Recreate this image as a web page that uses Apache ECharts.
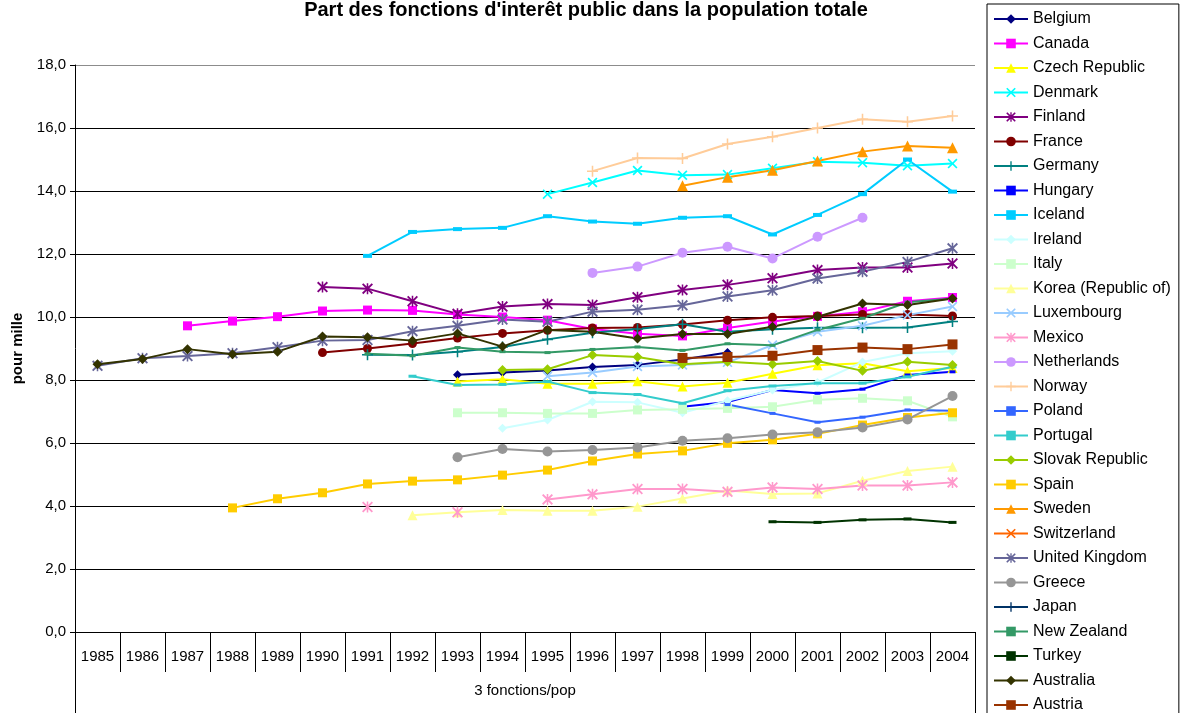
<!DOCTYPE html>
<html>
<head>
<meta charset="utf-8">
<title>Part des fonctions d'interêt public dans la population totale</title>
<script src="https://cdn.jsdelivr.net/npm/echarts@6/dist/echarts.min.js"></script>
<style>
  html, body { margin: 0; padding: 0; background: #fff; }
  #chart { width: 1181px; height: 713px; }
</style>
</head>
<body>
<div id="chart"></div>
<script>
// Years on the category axis
const years = ['1985','1986','1987','1988','1989','1990','1991','1992','1993','1994',
               '1995','1996','1997','1998','1999','2000','2001','2002','2003','2004'];

// Value axis (per mille)
const yMin = 0, yMax = 18, yStep = 2;

const N = null;
// Share of public-interest functions in total population, per mille (1985..2004)
const belgium     = [N,N,N,N,N,N,N,N,8.17,8.24,8.30,8.41,8.48,8.65,8.87,N,N,N,N,N];
const canada      = [N,N,9.72,9.87,10.01,10.19,10.22,10.21,10.08,10.00,9.90,9.62,9.47,9.40,9.65,9.86,10.02,10.17,10.50,10.62];
const czech       = [N,N,N,N,N,N,N,N,7.95,8.02,7.88,7.88,7.96,7.79,7.91,8.20,8.47,8.53,8.28,8.38];
const denmark     = [N,N,N,N,N,N,N,N,N,N,13.90,14.27,14.65,14.50,14.52,14.72,14.93,14.90,14.80,14.87];
const finland     = [N,N,N,N,N,10.95,10.90,10.50,10.10,10.33,10.41,10.38,10.63,10.86,11.02,11.23,11.49,11.57,11.57,11.70];
const france      = [N,N,N,N,N,8.87,9.00,9.16,9.33,9.48,9.58,9.65,9.67,9.76,9.90,9.99,10.03,10.08,10.08,10.03];
const germany     = [N,N,N,N,N,N,8.80,8.79,8.90,9.05,9.29,9.50,9.62,9.77,9.53,9.61,9.66,9.66,9.67,9.86];
const hungary     = [N,N,N,N,N,N,N,N,N,N,N,N,N,7.15,7.30,7.68,7.58,7.71,8.16,8.26];
const iceland     = [N,N,N,N,N,N,11.94,12.70,12.79,12.83,13.20,13.03,12.96,13.15,13.20,12.62,13.24,13.90,15.00,13.98];
const ireland     = [N,N,N,N,N,N,N,N,N,6.47,6.73,7.31,7.29,6.96,7.34,7.68,7.92,8.57,8.85,8.91];
const italy       = [N,N,N,N,N,N,N,N,6.96,6.96,6.94,6.94,7.05,7.07,7.10,7.15,7.37,7.42,7.34,6.83];
const korea       = [N,N,N,N,N,N,N,3.71,3.80,3.87,3.85,3.85,3.98,4.24,4.49,4.38,4.40,4.80,5.11,5.25];
const luxembourg  = [N,N,N,N,N,N,N,N,N,N,8.12,8.24,8.43,8.48,8.56,9.11,9.53,9.72,10.06,10.33];
const mexico      = [N,N,N,N,N,N,3.97,N,3.80,N,4.21,4.37,4.54,4.54,4.45,4.59,4.54,4.65,4.65,4.75];
const netherlands = [N,N,N,N,N,N,N,N,N,N,N,11.40,11.60,12.04,12.23,11.86,12.55,13.15,N,N];
const norway      = [N,N,N,N,N,N,N,N,N,N,N,14.63,15.05,15.03,15.49,15.72,16.00,16.28,16.20,16.38];
const poland      = [N,N,N,N,N,N,N,N,N,N,N,N,N,N,7.22,6.94,6.66,6.82,7.05,7.02];
const portugal    = [N,N,N,N,N,N,N,8.12,7.84,7.86,7.95,7.60,7.54,7.26,7.66,7.81,7.90,7.90,8.10,8.42];
const slovakia    = [N,N,N,N,N,N,N,N,N,8.32,8.34,8.79,8.73,8.50,8.58,8.50,8.60,8.29,8.58,8.48];
const spain       = [N,N,N,3.94,4.23,4.42,4.70,4.79,4.83,4.98,5.14,5.43,5.65,5.75,5.99,6.10,6.29,6.57,6.81,6.96];
const sweden      = [N,N,N,N,N,N,N,N,N,N,N,N,N,14.17,14.44,14.66,14.95,15.25,15.43,15.37];
const switzerland = [N,N,N,N,N,N,N,N,N,N,N,N,N,N,N,N,N,N,N,N];
const uk          = [8.45,8.69,8.76,8.85,9.04,9.25,9.27,9.55,9.72,9.92,9.85,10.17,10.23,10.37,10.65,10.85,11.22,11.44,11.75,12.18];
const greece      = [N,N,N,N,N,N,N,N,5.55,5.81,5.73,5.78,5.86,6.07,6.15,6.27,6.34,6.49,6.75,7.49];
const japan       = [N,N,N,N,N,N,N,N,N,N,N,N,N,N,N,N,N,N,N,N];
const newZealand  = [N,N,N,N,N,N,8.83,8.77,9.03,8.90,8.87,8.97,9.05,8.94,9.15,9.10,9.59,9.96,10.47,10.59];
const turkey      = [N,N,N,N,N,N,N,N,N,N,N,N,N,N,N,3.50,3.48,3.56,3.59,3.48];
const australia   = [8.50,8.67,8.98,8.82,8.90,9.38,9.36,9.25,9.48,9.06,9.59,9.53,9.32,9.46,9.46,9.69,10.01,10.43,10.38,10.59];
const austria     = [N,N,N,N,N,N,N,N,N,N,N,N,N,8.70,8.73,8.77,8.95,9.03,8.98,9.13];

// Marker shapes
const X_MARK = 'path://M0,1.2L1.2,0L5,3.8L8.8,0L10,1.2L6.2,5L10,8.8L8.8,10L5,6.2L1.2,10L0,8.8L3.8,5Z';
const PLUS_MARK = 'path://M4.3,0H5.7V4.3H10V5.7H5.7V10H4.3V5.7H0V4.3H4.3Z';
const STAR_MARK = 'path://M0,1.2L1.2,0L5,3.8L8.8,0L10,1.2L6.2,5L10,8.8L8.8,10L5,6.2L1.2,10L0,8.8L3.8,5ZM4.3,0H5.7V10H4.3Z';

// name, values, colour, marker, marker size
const lines = [
  ['Belgium', belgium, '#000080', 'diamond', 9],
  ['Canada', canada, '#FF00FF', 'rect', 9],
  ['Czech Republic', czech, '#FFFF00', 'triangle', 10],
  ['Denmark', denmark, '#00FFFF', X_MARK, 10],
  ['Finland', finland, '#800080', STAR_MARK, 11],
  ['France', france, '#800000', 'circle', 9],
  ['Germany', germany, '#008080', PLUS_MARK, 11],
  ['Hungary', hungary, '#0000FF', 'rect', [6, 3]],
  ['Iceland', iceland, '#00CCFF', 'rect', [9, 4]],
  ['Ireland', ireland, '#CCFFFF', 'diamond', 9],
  ['Italy', italy, '#CCFFCC', 'rect', 9],
  ['Korea (Republic of)', korea, '#FFFF99', 'triangle', 10],
  ['Luxembourg', luxembourg, '#99CCFF', X_MARK, 10],
  ['Mexico', mexico, '#FF99CC', STAR_MARK, 11],
  ['Netherlands', netherlands, '#CC99FF', 'circle', 10],
  ['Norway', norway, '#FFCC99', PLUS_MARK, 11],
  ['Poland', poland, '#3366FF', 'rect', [6, 3]],
  ['Portugal', portugal, '#33CCCC', 'rect', [8, 3]],
  ['Slovak Republic', slovakia, '#99CC00', 'diamond', 10],
  ['Spain', spain, '#FFCC00', 'rect', 9],
  ['Sweden', sweden, '#FF9900', 'triangle', 11],
  ['Switzerland', switzerland, '#FF6600', X_MARK, 10],
  ['United Kingdom', uk, '#666699', STAR_MARK, 11],
  ['Greece', greece, '#969696', 'circle', 10],
  ['Japan', japan, '#003366', PLUS_MARK, 11],
  ['New Zealand', newZealand, '#339966', 'rect', [6, 3]],
  ['Turkey', turkey, '#003300', 'rect', [8, 3]],
  ['Australia', australia, '#333300', 'diamond', 10],
  ['Austria', austria, '#993300', 'rect', 10]
];

const FONT = '"Liberation Sans", Arial, Helvetica, sans-serif';

const series = lines.map(([name, values, color, symbol, size]) => ({
  name,
  type: 'line',
  data: values,
  xAxisIndex: 0,
  symbol,
  symbolSize: size,
  showSymbol: true,
  connectNulls: false,
  lineStyle: { color, width: 2 },
  itemStyle: { color },
  emphasis: { disabled: true },
  animation: false
}));

// Split lines: black, with the frame line at the top in grey
const splitColors = [];
for (let v = yMin; v <= yMax; v += yStep) splitColors.push(v === yMax ? '#8c8c8c' : '#000');

const chart = echarts.init(document.getElementById('chart'), null, { renderer: 'canvas' });
chart.setOption({
  backgroundColor: '#fff',
  animation: false,
  textStyle: { fontFamily: FONT },
  title: {
    text: "Part des fonctions d'interêt public dans la population totale",
    left: 586,
    textAlign: 'center',
    top: 0,
    padding: 0,
    textStyle: { fontFamily: FONT, fontSize: 20, fontWeight: 'bold', color: '#000' }
  },
  legend: {
    orient: 'vertical',
    left: 987,
    top: 4,
    height: 780,
    padding: [7, 8, 6, 6],
    itemWidth: 34,
    itemHeight: 12,
    itemGap: 8.5,
    borderColor: '#000',
    borderWidth: 1,
    backgroundColor: '#fff',
    selectedMode: false,
    textStyle: { fontFamily: FONT, fontSize: 16, color: '#000' },
    data: lines.map(l => l[0])
  },
  grid: { left: 75, right: 206, top: 65, bottom: 81, containLabel: false, outerBoundsMode: 'none' },
  xAxis: [
    {
      type: 'category',
      data: years,
      boundaryGap: true,
      axisLine: { show: true, lineStyle: { color: '#000', width: 1 } },
      axisTick: { show: true, length: 40, interval: 0, lineStyle: { color: '#000' } },
      axisLabel: { interval: 0, margin: 17, fontSize: 15, color: '#000', fontFamily: FONT },
      splitLine: { show: false }
    },
    {
      type: 'category',
      data: ['3 fonctions/pop'],
      position: 'bottom',
      boundaryGap: true,
      axisLine: { show: false },
      axisTick: { show: true, length: 81, lineStyle: { color: '#000' } },
      axisLabel: { margin: 51, fontSize: 15, color: '#000', fontFamily: FONT },
      splitLine: { show: false }
    }
  ],
  yAxis: {
    type: 'value',
    min: yMin,
    max: yMax,
    interval: yStep,
    name: 'pour mille',
    nameLocation: 'middle',
    nameGap: 50,
    nameRotate: 90,
    nameTextStyle: { fontFamily: FONT, fontSize: 15, fontWeight: 'bold', color: '#000' },
    axisLine: { show: true, lineStyle: { color: '#000', width: 1 } },
    axisTick: { show: true, length: 5, lineStyle: { color: '#000' } },
    axisLabel: {
      fontSize: 15, color: '#000', margin: 9, fontFamily: FONT,
      formatter: v => v.toFixed(1).replace('.', ',')
    },
    splitLine: { show: true, lineStyle: { color: splitColors, width: 1 } }
  },
  series
});
</script>
</body>
</html>
